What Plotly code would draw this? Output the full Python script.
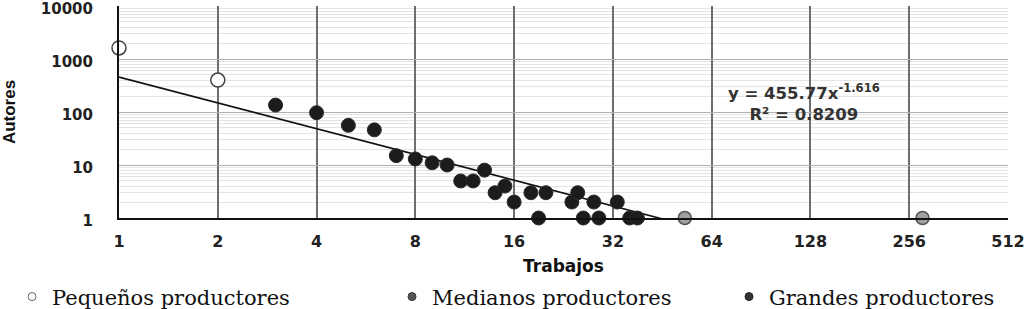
import numpy as np
import plotly.graph_objects as go

# ---- data ----
peq_x = [1, 2]
peq_y = [1620, 400]

med_x = [3, 4, 5, 6, 7, 8, 9, 10, 11, 12, 13, 14, 15, 16, 18, 19, 20, 24, 25, 26, 28, 29, 33, 36, 38]
med_y = [135, 97, 56, 46, 15, 13, 11, 10, 5, 5, 8, 3, 4, 2, 3, 1, 3, 2, 3, 1, 2, 1, 2, 1, 1]

gra_x = [53, 281]
gra_y = [1, 1]

fit_a = 455.77
fit_b = -1.616
fit_r2 = 0.8209

x_ticks = [1, 2, 4, 8, 16, 32, 64, 128, 256, 512]
y_ticks = [1, 10, 100, 1000, 10000]

legend_names = ["Pequeños productores", "Medianos productores", "Grandes productores"]

# ---- figure ----
fig = go.Figure()

fx = np.geomspace(min(peq_x), max(gra_x), 80)
fy = fit_a * fx ** fit_b
fig.add_trace(go.Scatter(x=fx, y=fy, mode="lines", line=dict(color="#111111", width=1.6),
                         showlegend=False, hoverinfo="skip"))

fig.add_trace(go.Scatter(x=peq_x, y=peq_y, mode="markers", name=legend_names[0], showlegend=False,
                         marker=dict(size=14, color="white", line=dict(color="#444444", width=1.5)),
                         cliponaxis=False))
fig.add_trace(go.Scatter(x=med_x, y=med_y, mode="markers", name=legend_names[1], showlegend=False,
                         marker=dict(size=14, color="#1c1c1c", line=dict(color="#2a2a2a", width=1)),
                         cliponaxis=False))
fig.add_trace(go.Scatter(x=gra_x, y=gra_y, mode="markers", name=legend_names[2], showlegend=False,
                         marker=dict(size=13, color="#a0a0a0", line=dict(color="#555555", width=1.5)),
                         cliponaxis=False))

# legend entries
leg_styles = [
    dict(color="white", line=dict(color="#666666", width=1)),
    dict(color="#555555", line=dict(color="#333333", width=1)),
    dict(color="#333333", line=dict(color="#222222", width=1)),
]
for i, (nm, st) in enumerate(zip(legend_names, leg_styles)):
    fig.add_trace(go.Scatter(x=[None], y=[None], mode="markers", name=nm,
                             marker=dict(size=8, **st),
                             legend="legend" if i == 0 else f"legend{i+1}"))

leg_common = dict(orientation="h", yanchor="middle", y=0.039, xanchor="left",
                  xref="container", yref="container",
                  font=dict(family="DejaVu Serif", size=21, color="#111111"),
                  bgcolor="rgba(0,0,0,0)", itemclick=False)
fig.update_layout(
    legend=dict(x=0.0117, **leg_common),
    legend2=dict(x=0.3806, **leg_common),
    legend3=dict(x=0.7078, **leg_common),
)

fig.add_annotation(x=np.log10(128) - 0.02, y=np.log10(150), xref="x", yref="y",
                   text=f"y = {fit_a}x<sup>{fit_b}</sup><br>R² = {fit_r2}",
                   showarrow=False, align="center",
                   font=dict(family="DejaVu Sans", size=16.5, color="#333333", weight="bold"))

tick_font = dict(family="DejaVu Sans", size=16, color="#222222", weight="bold")
ytick_font = dict(family="DejaVu Sans", size=15, color="#222222", weight="bold")

fig.update_xaxes(type="log", range=[0, np.log10(512)], tickvals=x_ticks,
                 ticktext=[str(v) for v in x_ticks], tickfont=tick_font,
                 ticklabeloverflow="allow",
                 showgrid=True, gridcolor="#6e6e6e", gridwidth=1.6,
                 showline=True, linecolor="#111111", linewidth=2,
                 ticks="", ticklabelstandoff=8, zeroline=False,
                 title=dict(text="Trabajos", standoff=12,
                            font=dict(family="DejaVu Sans", size=17, color="#111111", weight="bold")))
fig.update_yaxes(type="log", range=[0, 4], tickvals=y_ticks,
                 ticktext=[str(v) for v in y_ticks], tickfont=ytick_font,
                 ticklabeloverflow="allow", ticklabelshift=3,
                 showgrid=True, gridcolor="#b0b0b0", gridwidth=1.4,
                 minor=dict(dtick="D1", showgrid=True, gridcolor="#e4e4e4", gridwidth=1),
                 showline=True, linecolor="#111111", linewidth=2,
                 ticks="", ticklabelstandoff=21, zeroline=False,
                 title=dict(text="Autores", standoff=30,
                            font=dict(family="Liberation Sans Narrow, Liberation Sans", size=17,
                                      color="#111111", weight="bold")))

fig.update_layout(
    width=1030, height=309,
    margin=dict(l=119, r=22, t=6, b=91, autoexpand=False),
    paper_bgcolor="white", plot_bgcolor="white",
    showlegend=True,
)

fig.write_html("out.html", config={"displayModeBar": False},
               post_script="document.body.style.margin='0';document.body.style.overflow='hidden';")
